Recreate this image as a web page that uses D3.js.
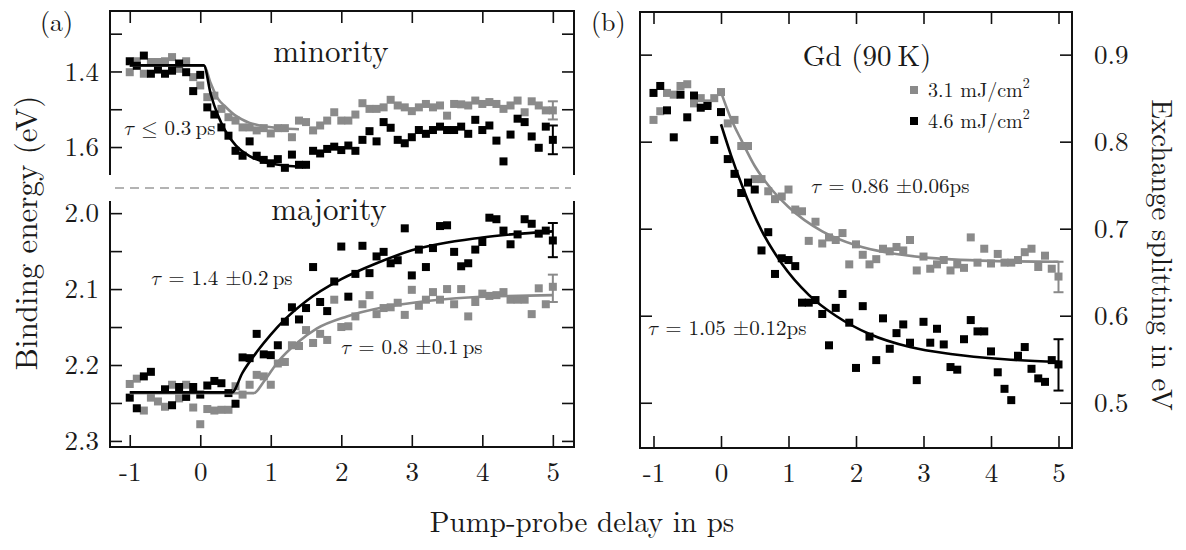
<!DOCTYPE html>
<html>
<head>
<meta charset="utf-8">
<script src="https://cdn.jsdelivr.net/npm/d3@7"></script>
<style>
  body { margin: 0; background: #fff; }
</style>
</head>
<body>
<svg id="chart" width="1186" height="550"></svg>
<script>
// pump-probe delay (ps), shared by all series
var delay = [-1.0,-0.9,-0.8,-0.7,-0.6,-0.5,-0.4,-0.3,-0.2,-0.1,
  0.0,0.1,0.2,0.3,0.4,0.5,0.6,0.7,0.8,0.9,
  1.0,1.1,1.2,1.3,1.4,1.5,1.6,1.7,1.8,1.9,
  2.0,2.1,2.2,2.3,2.4,2.5,2.6,2.7,2.8,2.9,
  3.0,3.1,3.2,3.3,3.4,3.5,3.6,3.7,3.8,3.9,
  4.0,4.1,4.2,4.3,4.4,4.5,4.6,4.7,4.8,4.9,5.0];

// (a) minority binding energy (eV)
var minBlack = [1.373,1.385,1.358,1.406,1.395,1.406,1.398,1.379,1.402,1.452,
  1.409,1.495,1.514,1.548,1.570,1.610,1.623,1.585,1.623,1.634,
  1.643,1.632,1.655,1.620,1.647,1.647,1.610,1.617,1.605,1.599,
  1.608,1.596,1.610,1.581,1.558,1.585,1.534,1.549,1.581,1.590,
  1.574,1.555,1.565,1.555,1.546,1.555,1.555,1.546,1.565,1.528,
  1.555,1.543,1.583,1.638,1.567,1.525,1.534,1.572,1.602,1.546,1.581];
var minGray = [1.402,1.373,1.406,1.375,1.375,1.373,1.362,1.393,1.373,1.415,
  1.437,1.468,1.464,1.499,1.521,1.530,1.548,1.548,1.556,1.550,
  1.564,1.550,1.550,1.574,1.530,1.534,1.556,1.543,1.530,1.508,
  1.530,1.530,1.514,1.484,1.499,1.499,1.495,1.475,1.490,1.495,
  1.505,1.495,1.486,1.495,1.490,1.517,1.486,1.487,1.490,1.477,
  1.486,1.481,1.486,1.499,1.490,1.477,1.508,1.479,1.490,1.503,1.503];

// (a) majority binding energy (eV)
var majBlack = [2.243,2.257,2.215,2.209,null,2.232,2.253,2.229,2.242,2.229,
  2.239,2.227,2.221,2.224,2.237,2.251,2.190,2.191,2.159,2.186,
  2.187,2.174,2.143,2.124,2.140,2.125,2.071,2.117,2.129,2.090,
  2.044,2.110,2.080,2.043,2.079,2.057,2.051,2.066,2.062,2.020,
  2.082,2.048,2.071,2.046,2.017,2.016,2.051,2.070,2.066,2.048,
  2.038,2.006,2.008,2.023,2.041,2.028,2.008,2.014,2.027,2.023,2.036];
var majGray = [2.225,2.218,2.260,2.243,2.248,2.255,2.226,2.244,2.226,2.256,
  2.278,2.258,2.260,2.259,2.259,2.228,2.239,2.226,2.213,2.215,
  2.226,2.198,2.196,2.174,2.175,2.154,2.171,2.159,2.167,2.114,
  2.150,2.149,2.136,2.120,2.108,2.133,2.125,2.124,2.118,2.134,
  2.101,2.122,2.114,2.104,2.114,2.100,2.120,2.100,2.136,2.117,
  2.106,2.109,2.108,2.104,2.114,2.114,2.114,2.133,2.099,2.120,2.097];

// (b) exchange splitting (eV), 4.6 and 3.1 mJ/cm2
var gdHigh = [0.856,0.864,0.836,0.805,0.854,0.828,0.853,0.839,0.841,0.802,
  0.834,0.780,0.763,0.741,0.753,0.745,0.675,0.696,0.648,0.666,
  0.664,0.657,0.615,0.615,0.618,0.602,0.566,0.609,0.625,0.592,
  0.540,0.611,0.576,0.549,0.597,0.562,0.580,0.590,0.569,0.526,
  0.593,0.569,0.585,0.567,0.541,0.538,0.573,0.595,0.582,0.582,
  0.559,0.535,0.516,0.503,0.554,0.564,0.539,0.528,0.524,0.549,0.544];
var gdLow = [0.825,0.835,0.856,0.854,0.864,0.866,0.844,0.850,0.844,0.850,
  0.857,0.821,0.825,0.795,0.795,0.757,0.757,0.743,0.734,0.737,
  0.745,0.722,0.720,0.686,0.708,0.683,0.690,0.687,0.695,0.659,
  0.682,0.670,0.659,0.665,0.677,0.674,0.679,0.675,0.687,0.652,
  0.668,0.654,0.659,0.664,0.652,0.659,0.655,0.690,0.661,0.677,
  0.660,0.671,0.661,0.661,0.664,0.673,0.677,0.656,0.669,0.654,0.645];

// fit curves, [delay, value]
var fitMinBlack = [[-1,1.384],[0.05,1.384],[0.15,1.461],[0.25,1.516],[0.35,1.555],[0.5,1.595],[0.7,1.624],[0.9,1.639],[1.2,1.649],[1.5,1.653]];
var fitMinGray = [[-1,1.384],[0.05,1.384],[0.15,1.432],[0.25,1.472],[0.35,1.492],[0.5,1.517],[0.7,1.536],[0.9,1.545],[1.2,1.551],[1.4,1.553]];
var fitMajBlack = [[-1,2.236],[0.45,2.236],[0.6,2.210],[0.8,2.183],[1.0,2.160],[1.2,2.140],[1.5,2.116],[2.0,2.087],[2.5,2.066],[3.0,2.049],[4.0,2.032],[5.0,2.024]];
var fitMajGray = [[-1,2.237],[0.76,2.237],[0.9,2.222],[1.1,2.196],[1.37,2.171],[1.65,2.152],[2.08,2.136],[2.6,2.124],[3.1,2.117],[3.8,2.111],[5.0,2.108]];
var fitGdHigh = [[0,0.820],[0.15,0.784],[0.3,0.752],[0.6,0.698],[0.9,0.660],[1.3,0.624],[1.7,0.600],[2.2,0.579],[2.8,0.564],[3.4,0.556],[4.2,0.550],[5.0,0.547]];
var fitGdLow = [[0,0.857],[0.15,0.826],[0.3,0.802],[0.5,0.772],[0.7,0.750],[1.0,0.725],[1.5,0.697],[2.0,0.681],[2.5,0.672],[3.0,0.667],[4.0,0.663],[5.0,0.662]];

// error bars on the last point [low, high]
var errMinBlack = [1.543, 1.619], errMinGray = [1.479, 1.527];
var errMajBlack = [2.013, 2.058], errMajGray = [2.081, 2.117];
var errGdHigh = [0.514, 0.573], errGdLow = [0.627, 0.662];

// ticks
var delayTicks = [-1, 0, 1, 2, 3, 4, 5];
var minTicks = [1.3, 1.4, 1.5, 1.6], minLabels = [1.4, 1.6];
var majTicks = [2.0, 2.05, 2.1, 2.15, 2.2, 2.25, 2.3], majLabels = [2.0, 2.1, 2.2, 2.3];
var gdTicks = [0.5, 0.6, 0.7, 0.8, 0.9];

var BLACK = '#000', GRAY = '#8a8a8a', INK = '#1a1a1a';
var FONT = '"Latin Modern Roman", "Latin Modern Math", "Liberation Serif", serif';
var svg = d3.select('#chart');

// scales
var xa = d3.scaleLinear().domain([-1.28, 5.3]).range([110, 574]);
var yMin = d3.scaleLinear().domain([1.24, 1.674]).range([11, 175]);
var yMaj = d3.scaleLinear().domain([1.984, 2.308]).range([201, 447]);
var xb = d3.scaleLinear().domain([-1.2, 5.2]).range([640, 1072]);
var yb = d3.scaleLinear().domain([0.448, 0.949]).range([448, 12]);

function fmtIf(list, f) {
  return function(d) { return list.indexOf(d) >= 0 ? f(d) : ''; };
}

function drawAxis(axis, tx, ty) {
  var g = svg.append('g')
    .attr('transform', 'translate(' + tx + ',' + ty + ')')
    .call(axis);
  g.select('.domain').remove();
  g.selectAll('line').attr('stroke', '#111').attr('stroke-width', 1.6);
  g.selectAll('text')
    .style('font-family', FONT)
    .style('font-size', '27px')
    .attr('fill', INK);
  return g;
}

// ---- panel (a) frames and ticks
svg.append('path')
  .attr('d', 'M' + xa.range()[0] + ',' + yMin.range()[1] + 'V' + yMin.range()[0] + 'H' + xa.range()[1] + 'V' + yMin.range()[1])
  .attr('fill', 'none').attr('stroke', '#111').attr('stroke-width', 2);
svg.append('path')
  .attr('d', 'M' + xa.range()[0] + ',' + yMaj.range()[0] + 'V' + yMaj.range()[1] + 'H' + xa.range()[1] + 'V' + yMaj.range()[0])
  .attr('fill', 'none').attr('stroke', '#111').attr('stroke-width', 2);

drawAxis(d3.axisLeft(yMin).tickValues(minTicks).tickSizeInner(-12).tickSizeOuter(0).tickPadding(11)
  .tickFormat(fmtIf(minLabels, d3.format('.1f'))), xa.range()[0], 0);
drawAxis(d3.axisRight(yMin).tickValues(minTicks).tickSizeInner(-12).tickSizeOuter(0).tickFormat(''), xa.range()[1], 0);
drawAxis(d3.axisTop(xa).tickValues(delayTicks).tickSizeInner(-12).tickSizeOuter(0).tickFormat(''), 0, yMin.range()[0]);

drawAxis(d3.axisLeft(yMaj).tickValues(majTicks).tickSizeInner(-12).tickSizeOuter(0).tickPadding(11)
  .tickFormat(fmtIf(majLabels, d3.format('.1f'))), xa.range()[0], 0);
drawAxis(d3.axisRight(yMaj).tickValues(majTicks).tickSizeInner(-12).tickSizeOuter(0).tickFormat(''), xa.range()[1], 0);
drawAxis(d3.axisBottom(xa).tickValues(delayTicks).tickSizeInner(-12).tickSizeOuter(0).tickPadding(15)
  .tickFormat(function(d) { return String(d); }), 0, yMaj.range()[1]);

// dashed separator
svg.append('line')
  .attr('x1', xa.range()[0] + 5).attr('x2', xa.range()[1] - 3)
  .attr('y1', (yMin.range()[1] + yMaj.range()[0]) / 2).attr('y2', (yMin.range()[1] + yMaj.range()[0]) / 2)
  .attr('stroke', '#9a9a9a').attr('stroke-width', 1.3).attr('stroke-dasharray', '9,6');

// ---- panel (b) frame and ticks
svg.append('rect')
  .attr('x', xb.range()[0]).attr('y', yb.range()[1])
  .attr('width', xb.range()[1] - xb.range()[0]).attr('height', yb.range()[0] - yb.range()[1])
  .attr('fill', 'none').attr('stroke', '#111').attr('stroke-width', 2);

drawAxis(d3.axisLeft(yb).tickValues(gdTicks).tickSizeInner(-12).tickSizeOuter(0).tickFormat(''), xb.range()[0], 0);
drawAxis(d3.axisRight(yb).tickValues(gdTicks).tickSizeInner(-12).tickSizeOuter(0).tickPadding(22)
  .tickFormat(d3.format('.1f')), xb.range()[1], 0);
drawAxis(d3.axisTop(xb).tickValues(delayTicks).tickSizeInner(-12).tickSizeOuter(0).tickFormat(''), 0, yb.range()[1]);
drawAxis(d3.axisBottom(xb).tickValues(delayTicks).tickSizeInner(-12).tickSizeOuter(0).tickPadding(15)
  .tickFormat(function(d) { return String(d); }), 0, yb.range()[0]);

// ---- data
function drawPoints(x, y, vals, color) {
  var pts = delay.map(function(d, i) { return [d, vals[i]]; })
    .filter(function(p) { return p[1] != null; });
  svg.append('g').selectAll('rect').data(pts).enter().append('rect')
    .attr('x', function(p) { return x(p[0]) - 4; })
    .attr('y', function(p) { return y(p[1]) - 4; })
    .attr('width', 8).attr('height', 8)
    .attr('fill', color);
}

function drawFit(x, y, pts, color) {
  var line = d3.line()
    .x(function(p) { return x(p[0]); })
    .y(function(p) { return y(p[1]); })
    .curve(d3.curveMonotoneX);
  svg.append('path').attr('d', line(pts))
    .attr('fill', 'none').attr('stroke', color).attr('stroke-width', 2.6);
}

function drawErr(x, y, t, err, color) {
  var g = svg.append('g').attr('stroke', color).attr('stroke-width', 2);
  g.append('line').attr('x1', x(t)).attr('x2', x(t)).attr('y1', y(err[0])).attr('y2', y(err[1]));
  g.selectAll('.cap').data(err).enter().append('line')
    .attr('x1', x(t) - 5).attr('x2', x(t) + 5)
    .attr('y1', function(d) { return y(d); }).attr('y2', function(d) { return y(d); });
}

var lastT = delay[delay.length - 1];

drawPoints(xa, yMin, minGray, GRAY);
drawPoints(xa, yMin, minBlack, BLACK);
drawFit(xa, yMin, fitMinGray, GRAY);
drawFit(xa, yMin, fitMinBlack, BLACK);
drawErr(xa, yMin, lastT, errMinGray, GRAY);
drawErr(xa, yMin, lastT, errMinBlack, BLACK);

drawPoints(xa, yMaj, majGray, GRAY);
drawPoints(xa, yMaj, majBlack, BLACK);
drawFit(xa, yMaj, fitMajGray, GRAY);
drawFit(xa, yMaj, fitMajBlack, BLACK);
drawErr(xa, yMaj, lastT, errMajGray, GRAY);
drawErr(xa, yMaj, lastT, errMajBlack, BLACK);

drawPoints(xb, yb, gdLow, GRAY);
drawPoints(xb, yb, gdHigh, BLACK);
drawFit(xb, yb, fitGdLow, GRAY);
drawFit(xb, yb, fitGdHigh, BLACK);
drawErr(xb, yb, lastT, errGdLow, GRAY);
drawErr(xb, yb, lastT, errGdHigh, BLACK);

// ---- labels
function label(x, y, size, anchor) {
  return svg.append('text').attr('x', x).attr('y', y)
    .style('font-family', FONT).style('font-size', size + 'px')
    .attr('fill', INK).attr('text-anchor', anchor || 'start');
}
function tau(t, rest) {
  t.append('tspan').style('font-style', 'italic')
    .style('font-family', '"Latin Modern Math", "DejaVu Serif", serif').text('\u03C4');
  t.append('tspan').text(rest);
}

label(40, 31, 26).text('(a)');
label(591, 31, 26).text('(b)');
label(331, 62, 31, 'middle').text('minority');
label(329, 220, 31, 'middle').text('majority');
label(867, 66, 29, 'middle').text('Gd (90\u2009K)');

tau(label(123, 135, 21), ' \u2264 0.3\u2009ps');
tau(label(150, 285, 21), ' = 1.4  \u00B10.2\u2009ps');
tau(label(340, 354, 21), ' = 0.8  \u00B10.1\u2009ps');
tau(label(810, 193, 21), ' = 0.86  \u00B10.06ps');
tau(label(647, 335, 21), ' = 1.05  \u00B10.12ps');

// legend
var legend = [['3.1 mJ/cm', GRAY, 90], ['4.6 mJ/cm', BLACK, 121]];
legend.forEach(function(l) {
  svg.append('rect').attr('x', 910).attr('y', l[2] - 4).attr('width', 8).attr('height', 8).attr('fill', l[1]);
  var t = label(928, l[2] + 7, 20);
  t.append('tspan').text(l[0]);
  t.append('tspan').attr('dy', -9).style('font-size', '14px').text('2');
});

// axis titles
label(582, 532, 29, 'middle').text('Pump-probe delay in ps');
svg.append('text').attr('transform', 'translate(37,233) rotate(-90)')
  .style('font-family', FONT).style('font-size', '31px').attr('fill', INK)
  .attr('text-anchor', 'middle').text('Binding energy (eV)');
svg.append('text').attr('transform', 'translate(1152,255) rotate(90)')
  .style('font-family', FONT).style('font-size', '29px').attr('fill', INK)
  .attr('text-anchor', 'middle').text('Exchange splitting in eV');
</script>
</body>
</html>
